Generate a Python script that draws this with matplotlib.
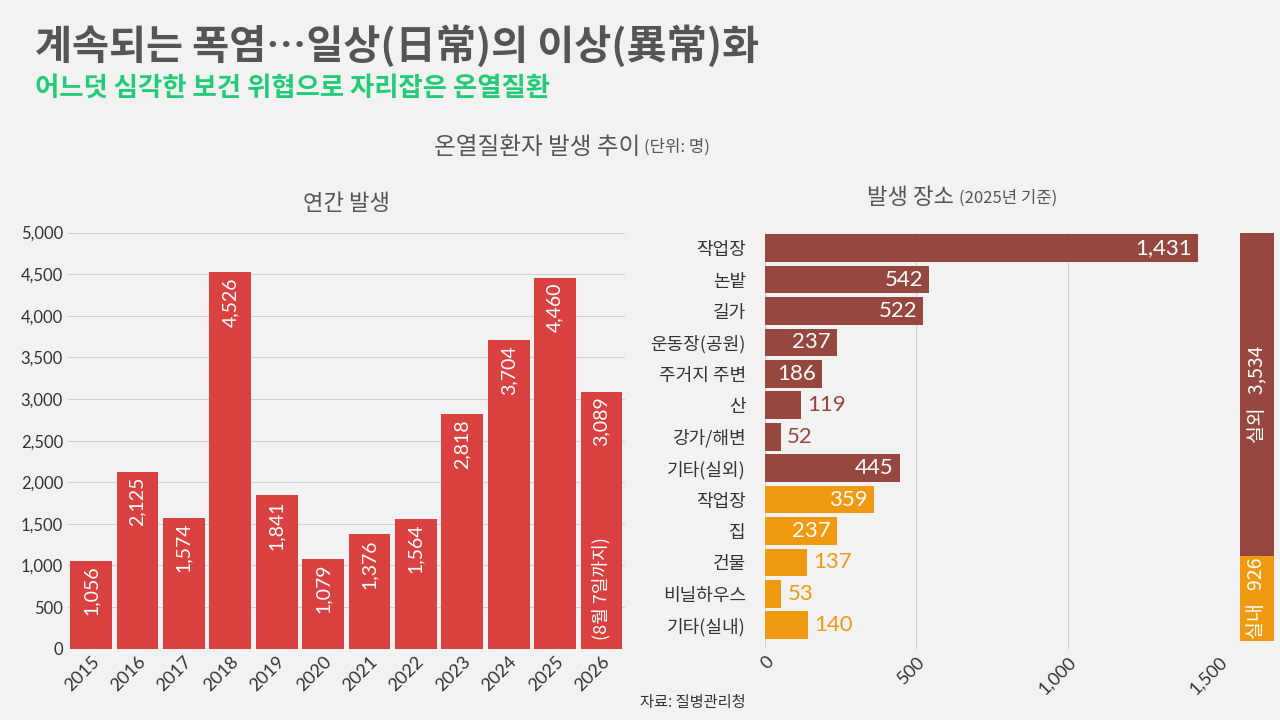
import matplotlib
matplotlib.use("Agg")
import matplotlib.pyplot as plt

years = ["2015","2016","2017","2018","2019","2020","2021","2022","2023","2024","2025","2026"]
cases = [1056, 2125, 1574, 4526, 1841, 1079, 1376, 1564, 2818, 3704, 4460, 3089]

places = ["작업장","논밭","길가","운동장(공원)","주거지 주변","산","강가/해변","기타(실외)",
          "작업장","집","건물","비닐하우스","기타(실내)"]
place_vals = [1431, 542, 522, 237, 186, 119, 52, 445, 359, 237, 137, 53, 140]
place_group = ["out"]*8 + ["in"]*5
totals_labels = ["실외", "실내"]
totals = [3534, 926]

KR = ["Noto Sans CJK KR", "DejaVu Sans"]
NUM = ["Lato", "Noto Sans CJK KR"]
BG = "#f2f2f2"
RED = "#d94141"
BROWN = "#964840"
ORANGE = "#f09a12"
GREY = "#555555"

plt.rcParams["font.family"] = KR
fig = plt.figure(figsize=(12.8, 7.2), dpi=100, facecolor=BG)

fig.text(0.027, 0.935, "계속되는 폭염…일상(日常)의 이상(異常)화", fontsize=29, fontweight="bold",
         color=GREY, family=KR, va="center")
fig.text(0.027, 0.877, "어느덧 심각한 보건 위협으로 자리잡은 온열질환", fontsize=19, fontweight="bold",
         color="#22cc77", family=KR, va="center")
fig.text(0.5, 0.795, "온열질환자 발생 추이", fontsize=17, color=GREY, ha="right", va="center")
fig.text(0.503, 0.795, "(단위: 명)", fontsize=12, color=GREY, ha="left", va="center")
fig.text(0.5, 0.025, "자료: 질병관리청", fontsize=11, color="#333333", ha="left", va="center")

# left chart
ax = fig.add_axes([0.053, 0.099, 0.435, 0.578], facecolor=BG)
x = range(len(years))
ax.bar(x, cases, width=0.9, color=RED, zorder=2)
ax.set_ylim(0, 5000)
ax.set_xlim(-0.5, len(years) - 0.5)
ax.set_yticks(range(0, 5001, 500))
ax.set_yticklabels([f"{v:,}" for v in range(0, 5001, 500)], family=NUM, fontsize=12, color="#333")
ax.set_xticks(list(x))
ax.set_xticklabels(years, rotation=45, ha="right", rotation_mode="anchor", family=NUM, fontsize=13, color="#333")
ax.grid(axis="y", color="#d0d0d0", lw=0.8, zorder=0)
for s in ax.spines.values():
    s.set_visible(False)
ax.tick_params(length=0)
for i, v in enumerate(cases):
    ax.text(i, v - 60, f"{v:,}", rotation=90, ha="center", va="top", color="white", fontsize=14, family=NUM)
ax.text(len(years) - 1, 100, "(8월 7일까지)", rotation=90, ha="center", va="bottom", color="white", fontsize=13)
ax.set_title("연간 발생", fontsize=16, color=GREY, pad=16)

# right chart
ax2 = fig.add_axes([0.598, 0.099, 0.354, 0.578], facecolor=BG)
y = range(len(places))
cols = [BROWN if g == "out" else ORANGE for g in place_group]
ax2.barh(list(y), place_vals, height=0.88, color=cols, zorder=2)
ax2.set_ylim(len(places) - 0.5 + 0.25, -0.5)
ax2.set_xlim(0, 1500)
ax2.set_xticks([0, 500, 1000, 1500])
ax2.set_xticklabels(["0", "500", "1,000", "1,500"], rotation=45, ha="right", rotation_mode="anchor",
                    family=NUM, fontsize=13, color="#333")
ax2.set_yticks(list(y))
ax2.set_yticklabels(places, fontsize=13, color="#333")
ax2.grid(axis="x", color="#d0d0d0", lw=0.8, zorder=0)
for s in ax2.spines.values():
    s.set_visible(False)
ax2.tick_params(length=0, axis="y", pad=14)
ax2.tick_params(length=0, axis="x")
for i, v in enumerate(place_vals):
    if v >= 180:
        ax2.text(v - 20, i, f"{v:,}", ha="right", va="center", color="white", fontsize=16, family=NUM)
    else:
        ax2.text(v + 20, i, f"{v:,}", ha="left", va="center", color=cols[i], fontsize=16, family=NUM)
fig.text(0.745, 0.725, "발생 장소", fontsize=16, color=GREY, ha="right", va="center")
fig.text(0.749, 0.725, "(2025년 기준)", fontsize=12, color=GREY, ha="left", va="center")

# stacked total bar
ax3 = fig.add_axes([0.969, 0.099 + 0.578 * (0.25 / 13.25), 0.026, 0.578 * (13 / 13.25)], facecolor=BG)
ax3.bar([0], [totals[1]], width=1, color=ORANGE)
ax3.bar([0], [totals[0]], bottom=[totals[1]], width=1, color=BROWN)
ax3.set_xlim(-0.5, 0.5)
ax3.set_ylim(0, sum(totals))
ax3.axis("off")
ax3.text(0, totals[1] + totals[0] / 2, f"{totals_labels[0]}   {totals[0]:,}", rotation=90,
         ha="center", va="center", color="white", fontsize=14)
ax3.text(0, totals[1] / 2, f"{totals_labels[1]}   {totals[1]:,}", rotation=90,
         ha="center", va="center", color="white", fontsize=14)

fig.savefig("out.png", dpi=100, facecolor=BG)
